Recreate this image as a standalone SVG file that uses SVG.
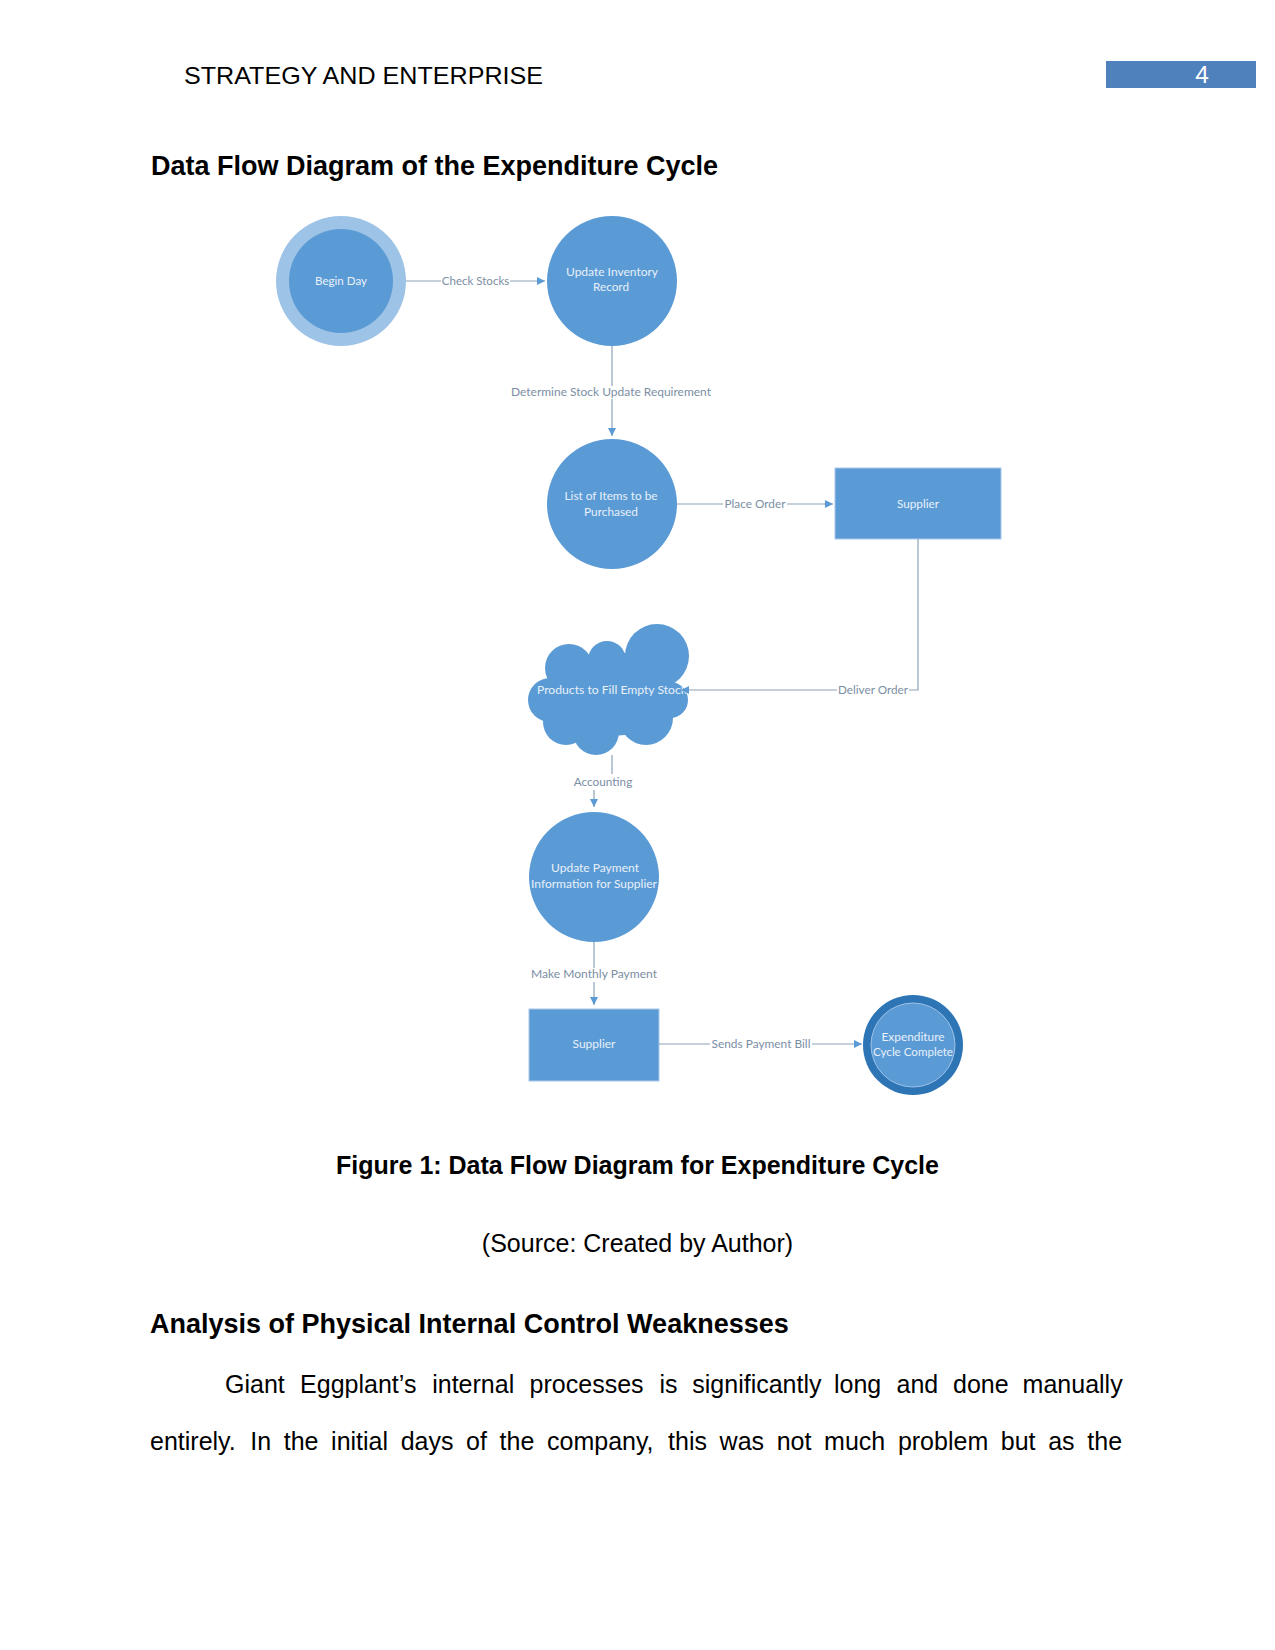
<svg xmlns="http://www.w3.org/2000/svg" width="1275" height="1650" viewBox="0 0 1275 1650">
<defs>
<style>
.page{font-family:"Liberation Sans",Arial,sans-serif;fill:#000}
.body{font-size:25px}
.head{font-size:27px;font-weight:bold}
.node{fill:#5b9bd5}
.ntext{font-family:Lato,"Liberation Sans",sans-serif;font-size:11.5px;fill:#e8f0fa;text-anchor:middle}
.elabel{font-family:Lato,"Liberation Sans",sans-serif;font-size:11.5px;fill:#7b8ea3;text-anchor:middle}
.conn{stroke:#8da2b8;stroke-width:1.2;fill:none}
.lbg{fill:#fff}
</style>
<marker id="arr" markerUnits="userSpaceOnUse" markerWidth="9" markerHeight="9" refX="8" refY="4" orient="auto">
<path d="M0,0 L8,4 L0,8 z" fill="#5b9bd5"/>
</marker>
</defs>
<rect width="1275" height="1650" fill="#fff"/>

<g id="page-header">
<text class="page" x="184" y="84" font-size="24.5" textLength="359" lengthAdjust="spacingAndGlyphs">STRATEGY AND ENTERPRISE</text>
<rect x="1106" y="61" width="150" height="27" fill="#4f81bd"/>
<text x="1202" y="83" font-family="Liberation Sans, Arial, sans-serif" font-size="24.5" fill="#fff" text-anchor="middle">4</text>
</g>
<text class="page head" x="151" y="175" textLength="567" lengthAdjust="spacingAndGlyphs">Data Flow Diagram of the Expenditure Cycle</text>

<g id="nodes">
<g id="begin-day">
<circle cx="341" cy="281" r="65" fill="#9dc3e6"/>
<circle cx="341" cy="281" r="52" class="node"/>
<text class="ntext" x="341" y="285" textLength="52" lengthAdjust="spacingAndGlyphs">Begin Day</text>
</g>
<g id="update-inventory">
<circle cx="612" cy="281" r="65" class="node"/>
<text class="ntext" x="612" y="276" textLength="92" lengthAdjust="spacingAndGlyphs">Update Inventory</text>
<text class="ntext" x="611" y="291" textLength="36" lengthAdjust="spacingAndGlyphs">Record</text>
</g>
<g id="list-items">
<circle cx="612" cy="504" r="65" class="node"/>
<text class="ntext" x="611" y="500" textLength="93" lengthAdjust="spacingAndGlyphs">List of Items to be</text>
<text class="ntext" x="611" y="515.5" textLength="54" lengthAdjust="spacingAndGlyphs">Purchased</text>
</g>
<g id="supplier-1">
<rect x="835" y="468" width="166" height="71" class="node" stroke="#a9c8ea" stroke-width="1"/>
<text class="ntext" x="918" y="507.5" textLength="42" lengthAdjust="spacingAndGlyphs">Supplier</text>
</g>
<g id="products-cloud">
<g class="node">
<circle cx="657" cy="656" r="32"/>
<circle cx="607" cy="660" r="19"/>
<circle cx="569" cy="668" r="24"/>
<circle cx="550" cy="700" r="22"/>
<circle cx="566" cy="722" r="23"/>
<circle cx="596" cy="732" r="23"/>
<circle cx="646" cy="718" r="27"/>
<circle cx="670" cy="700" r="18"/>
<ellipse cx="612" cy="694" rx="62" ry="42"/>
</g>
<text class="ntext" x="612" y="693.5" textLength="150" lengthAdjust="spacingAndGlyphs">Products to Fill Empty Stock</text>
</g>
<g id="update-payment">
<circle cx="594" cy="877" r="65" class="node"/>
<text class="ntext" x="595" y="872" textLength="88" lengthAdjust="spacingAndGlyphs">Update Payment</text>
<text class="ntext" x="594" y="888" textLength="126" lengthAdjust="spacingAndGlyphs">Information for Supplier</text>
</g>
<g id="supplier-2">
<rect x="529" y="1009" width="130" height="72" class="node" stroke="#a9c8ea" stroke-width="1"/>
<text class="ntext" x="594" y="1048" textLength="43" lengthAdjust="spacingAndGlyphs">Supplier</text>
</g>
<g id="expenditure-complete">
<circle cx="913" cy="1045" r="50" fill="#2e75b6"/>
<circle cx="913" cy="1045" r="42" class="node" stroke="#9fc2e8" stroke-width="1"/>
<text class="ntext" x="913" y="1041" textLength="63" lengthAdjust="spacingAndGlyphs">Expenditure</text>
<text class="ntext" x="913" y="1056" textLength="80" lengthAdjust="spacingAndGlyphs">Cycle Complete</text>
</g>
</g>

<g id="connectors">
<path class="conn" d="M406 281 H545" marker-end="url(#arr)"/>
<rect class="lbg" x="441" y="274" width="69" height="14"/>
<text class="elabel" x="475.5" y="285" textLength="67.5" lengthAdjust="spacingAndGlyphs">Check Stocks</text>

<path class="conn" d="M612 346 V436" marker-end="url(#arr)"/>
<rect class="lbg" x="510" y="386" width="202" height="13"/>
<text class="elabel" x="611" y="395.5" textLength="200" lengthAdjust="spacingAndGlyphs">Determine Stock Update Requirement</text>

<path class="conn" d="M677 504 H833" marker-end="url(#arr)"/>
<rect class="lbg" x="723" y="497" width="64" height="14"/>
<text class="elabel" x="755" y="508" textLength="61" lengthAdjust="spacingAndGlyphs">Place Order</text>

<path class="conn" d="M918 539 V690 H681" marker-end="url(#arr)"/>
<rect class="lbg" x="837" y="683" width="72" height="14"/>
<text class="elabel" x="873" y="694" textLength="70" lengthAdjust="spacingAndGlyphs">Deliver Order</text>

<path class="conn" d="M612 755 V781 H594 V807" marker-end="url(#arr)"/>
<rect class="lbg" x="572" y="774" width="62" height="16"/>
<text class="elabel" x="603" y="786" textLength="58.5" lengthAdjust="spacingAndGlyphs">Accounting</text>

<path class="conn" d="M594 942 V1005" marker-end="url(#arr)"/>
<rect class="lbg" x="529" y="968" width="130" height="14"/>
<text class="elabel" x="594" y="978" textLength="126" lengthAdjust="spacingAndGlyphs">Make Monthly Payment</text>

<path class="conn" d="M659 1044 H862" marker-end="url(#arr)"/>
<rect class="lbg" x="710" y="1037" width="102" height="14"/>
<text class="elabel" x="761" y="1048" textLength="99" lengthAdjust="spacingAndGlyphs">Sends Payment Bill</text>
</g>

<text class="page body" x="637.5" y="1173.5" font-weight="bold" text-anchor="middle">Figure 1: Data Flow Diagram for Expenditure Cycle</text>
<text class="page body" x="637.5" y="1251.5" text-anchor="middle">(Source: Created by Author)</text>
<text class="page head" x="150" y="1333">Analysis of Physical Internal Control Weaknesses</text>

<text class="page body" y="1393">
<tspan x="225">Giant</tspan><tspan x="300.1">Eggplant’s</tspan><tspan x="432.2">internal</tspan><tspan x="529.6">processes</tspan><tspan x="659.5">is</tspan><tspan x="692.3">significantly</tspan><tspan x="834">long</tspan><tspan x="896.5">and</tspan><tspan x="953">done</tspan><tspan x="1022.6">manually</tspan>
</text>
<text class="page body" y="1450">
<tspan x="150">entirely.</tspan><tspan x="250.2">In</tspan><tspan x="283.7">the</tspan><tspan x="331.1">initial</tspan><tspan x="400.7">days</tspan><tspan x="466.1">of</tspan><tspan x="499.6">the</tspan><tspan x="547">company,</tspan><tspan x="668.1">this</tspan><tspan x="719.6">was</tspan><tspan x="776.7">not</tspan><tspan x="824.1">much</tspan><tspan x="897.9">problem</tspan><tspan x="1000.8">but</tspan><tspan x="1048.2">as</tspan><tspan x="1087.3">the</tspan>
</text>
</svg>
